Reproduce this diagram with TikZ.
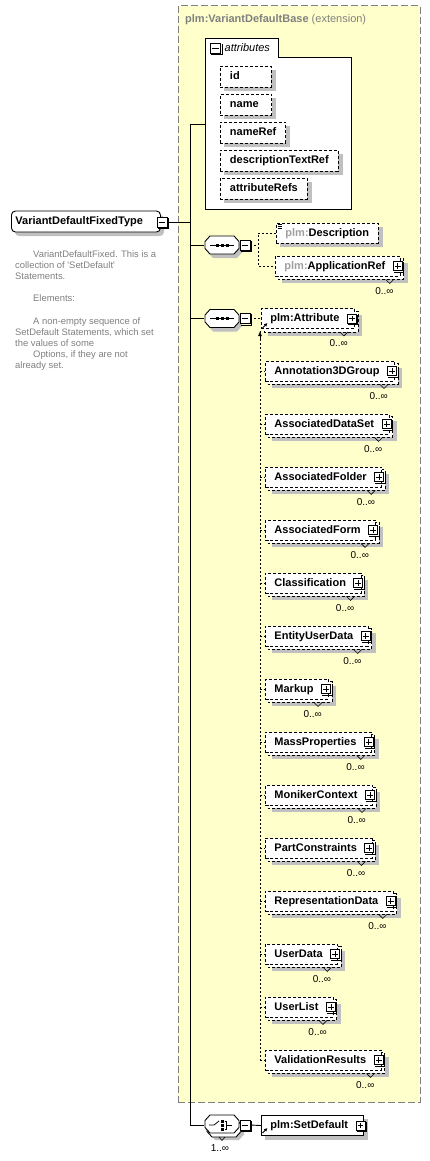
\documentclass[tikz,border=0pt]{standalone}
\usepackage{fontspec}
\setmainfont{Liberation Sans}
\usetikzlibrary{calc,arrows.meta}
\pgfdeclarelayer{ybg}\pgfdeclarelayer{cont}\pgfdeclarelayer{shad}\pgfdeclarelayer{backb}
\pgfsetlayers{ybg,cont,shad,backb,main}
\definecolor{ybox}{RGB}{255,255,204}
\definecolor{shadowc}{RGB}{192,192,192}
\definecolor{greytext}{RGB}{128,128,128}
\definecolor{lgreytext}{RGB}{160,160,160}
\newcommand\ef{\fontsize{11}{13}\selectfont\bfseries}
\newcommand\mf{\fontsize{10}{12}\selectfont}
\newcommand\df{\fontsize{9.4}{11.1}\selectfont}
\tikzset{
  conn/.style={line width=0.9pt, black},
  dconn/.style={conn, dash pattern=on 2pt off 2pt},
  boxline/.style={line width=0.9pt, black},
  signline/.style={line width=0.8pt, black},
  optbox/.style={draw, fill=white, dash pattern=on 3pt off 2pt, line width=0.9pt, anchor=west, font=\ef,
    minimum height=20pt, inner xsep=9pt, inner ysep=0pt, text height=8pt, text depth=2pt},
  reqbox/.style={optbox, solid},
  optback/.style={draw, fill=white, dash pattern=on 3pt off 2pt, line width=0.9pt},
  attrbox/.style={optbox, minimum height=21pt, inner xsep=9.5pt},
  plusnode/.style={draw, solid, fill=white, line width=0.9pt, minimum size=9pt, inner sep=0pt},
  multlabel/.style={font=\mf, inner sep=0pt},
  notch/.style={line width=0.6pt, black},
  compnode/.style={minimum width=35pt, minimum height=18pt, inner sep=0pt},
  extbox/.style={draw=greytext, fill=ybox, line width=1pt, dash pattern=on 7pt off 3pt, inner sep=0pt},
}
\newcommand\drawshadow[3]{%
  \begin{pgfonlayer}{shad}
    \fill[shadowc] ($(#1.north west)+(#2,#3)$) rectangle ($(#1.south east)+(#2,#3)$);
  \end{pgfonlayer}}
\newcommand\drawback[2]{%
  \begin{pgfonlayer}{backb}
    \draw[#2] ($(#1.north west)+(3,3)$) rectangle ($(#1.south east)+(3,3)$);
  \end{pgfonlayer}}
\newcommand\plusmark[2]{%
  \node[plusnode] (#1) at #2 {};
  \draw[boxline] ($(#1.south west)+(1,1)$) -- ($(#1.south east)+(1,1)$) -- ($(#1.north east)+(1,1)$);
  \draw[signline] ($(#1.west)+(2,0)$) -- ($(#1.east)+(-2,0)$) ($(#1.north)+(0,2)$) -- ($(#1.south)+(0,-2)$);}
\newcommand\minusmark[2]{%
  \node[plusnode, minimum size=10pt] (#1) at #2 {};
  \draw[boxline] ($(#1.south west)+(1,1)$) -- ($(#1.south east)+(1,1)$) -- ($(#1.north east)+(1,1)$);
  \draw[signline] ($(#1.west)+(2,0)$) -- ($(#1.east)+(-2,0)$);}
\newcommand\repel[6]{% name, x, cy, text, mult, style
  \node[#6] (#1) at (#2,#3) {#4\hspace*{6pt}};
  \drawback{#1}{optback}
  \drawshadow{#1}{7}{7}
  \plusmark{#1p}{($(#1.east)+(-3,0)$)}
  \node[multlabel, anchor=east] (#1m) at ($(#1.east)+(-7,25)$) {#5};
  \draw[notch] ($(#1.south east)+(-15,3)$) -- ($(#1.south east)+(-11,7)$) -- ($(#1.south east)+(-7,3)$);}
\newcommand\octpath[2]{(#1-17,#2-3.5) -- (#1-12,#2-9) -- (#1+12,#2-9) -- (#1+17,#2-3.5) -- (#1+17,#2+3.5) -- (#1+12,#2+9) -- (#1-12,#2+9) -- (#1-17,#2+3.5) -- cycle}
\newcommand\seqicon[2]{%
  \draw[signline] (#1-12,#2) -- (#1+12,#2);
  \fill (#1-6.5,#2-1.5) rectangle (#1-3.5,#2+1.5);
  \fill (#1-1.5,#2-1.5) rectangle (#1+1.5,#2+1.5);
  \fill (#1+3.5,#2-1.5) rectangle (#1+6.5,#2+1.5);}
\begin{document}
\begin{tikzpicture}[x=1pt,y=-1pt]
\useasboundingbox (0,0) rectangle (430,1161);
\begin{pgfonlayer}{ybg}
  \fill[white] (0,0) rectangle (430,1161);
  \node[extbox, anchor=north west, minimum width=242pt, minimum height=1096pt] (ext) at (177.5,5.5) {};
\end{pgfonlayer}
\node[anchor=base west, text=greytext, font=\ef, inner sep=0pt] (title) at (185,23) {plm:VariantDefaultBase \textmd{(extension)}};

% attributes container
\begin{pgfonlayer}{cont}
  \draw[boxline, fill=white] (205,209) -- (205,38) -- (278,38) -- (278,57) -- (351,57) -- (351,209) -- cycle;
\end{pgfonlayer}
\coordinate (attrW) at (205,124);
\minusmark{attrM}{(215.5,48.5)}
\node[anchor=west, font=\fontsize{11}{13}\selectfont\itshape, inner sep=0pt] (attrT) at (224.5,48) {attributes};
\foreach \nm/\yy/\id/\pd in {id/76.5/aId/22, name/104.5/aName/3.5, nameRef/132.5/aNameRef/0, descriptionTextRef/160.5/aDescr/0, attributeRefs/188.5/aRefs/0}{
  \node[attrbox] (\id) at (220,\yy) {\nm\hspace*{\pd pt}};
  \drawshadow{\id}{4}{4}
}

% root
\begin{pgfonlayer}{shad}
  \fill[shadowc, rounded corners=4pt] (15,215) rectangle (164,236);
\end{pgfonlayer}
\node[draw, fill=white, line width=0.9pt, rounded corners=4pt, anchor=west, font=\ef, minimum height=21pt,
  text width=141pt, inner xsep=4pt, inner ysep=0pt, text height=8pt, text depth=2pt, align=left] (root) at (11,221.5) {VariantDefaultFixedType};
\minusmark{rootM}{(162,222)}

\node[anchor=north west, text=greytext, font=\df, align=left, inner sep=0pt] (doc) at (15,250.5)
 {\hspace*{18pt}VariantDefaultFixed. This is a\\
  collection of \textquotesingle SetDefault\textquotesingle\\
  Statements.\\[11.1pt]
  \hspace*{18pt}Elements:\\[11.1pt]
  \hspace*{18pt}A non-empty sequence of\\
  SetDefault Statements, which set\\
  the values of some\\
  \hspace*{18pt}Options, if they are not\\
  already set.};

% spine
\coordinate (spTop) at (190,124);
\coordinate (spBot) at (190,1125);
\draw[conn] (spTop) -- (spBot);
\draw[conn] (spTop) -- (attrW);
\draw[conn] (rootM.east) -- (rootM.east -| spTop);

% sequence 1
\node[compnode] (seqA) at (222,245) {};
\begin{pgfonlayer}{shad}\fill[shadowc] \octpath{225}{249};\end{pgfonlayer}
\draw[boxline, fill=white] \octpath{222}{245};
\seqicon{222}{245}
\minusmark{seqAm}{(245,245)}
\draw[conn] (seqA.west -| spTop) -- (seqA.west);

\node[optbox] (desc) at (276,233) {\textcolor{lgreytext}{plm:}Description};
\drawshadow{desc}{4}{4}
\draw[line width=0.7pt] (277.5,224) -- (281.5,224) (277.5,226) -- (281.5,226) (277.5,228) -- (281.5,228);
\repel{appref}{275}{266}{\textcolor{lgreytext}{plm:}ApplicationRef}{0..∞}{optbox}
\coordinate (brA) at (258,245);
\draw[dconn] (seqAm.east) -- (brA);
\draw[dconn] (desc.west) -| (brA) |- (appref.west);

% sequence 2
\node[compnode] (seqB) at (222,318.5) {};
\begin{pgfonlayer}{shad}\fill[shadowc] \octpath{225}{322.5};\end{pgfonlayer}
\draw[boxline, fill=white] \octpath{222}{318.5};
\seqicon{222}{318.5}
\minusmark{seqBm}{(245,318.5)}
\draw[conn] (seqB.west -| spTop) -- (seqB.west);
\repel{attr}{261}{318.5}{plm:Attribute}{0..∞}{optbox}
\draw[dconn] (seqBm.east) -- (attr.west);
\draw[-{Latex[length=3.5pt,width=3.5pt]}, line width=0.8pt] (262.5,328) -- (267.5,323);

\coordinate (subTop) at (260,331);
\coordinate (subBot) at (260,1060);
\draw[dconn] (subTop) -- (subBot);
\draw[-{Latex[length=5pt,width=4pt]}, line width=0.9pt] (260,340) -- (subTop);

\foreach \nm [count=\k from 0] in {Annotation3DGroup, AssociatedDataSet, AssociatedFolder, AssociatedForm, Classification, EntityUserData, Markup, MassProperties, MonikerContext, PartConstraints, RepresentationData, UserData, UserList, ValidationResults}{
  \repel{d\k}{265}{371+53*\k}{\nm}{0..∞}{optbox}
  \draw[dconn] (d\k.west -| subTop) -- (d\k.west);
}

% choice
\node[compnode] (choice) at (222,1124) {};
\begin{pgfonlayer}{shad}\fill[shadowc] \octpath{227}{1131};\end{pgfonlayer}
\begin{pgfonlayer}{backb}\draw[boxline, fill=white] \octpath{224}{1128};\end{pgfonlayer}
\draw[boxline, fill=white] \octpath{222}{1124};
\draw[signline] (209,1125) -- (214,1125) -- (219,1121);
\fill (220.5,1119.5) rectangle (223.5,1122.5);
\fill (220.5,1123.5) rectangle (223.5,1126.5);
\fill (220.5,1127.5) rectangle (223.5,1130.5);
\draw[signline] (224.5,1121) -- (226.5,1121) -- (226.5,1129) -- (224.5,1129) (226.5,1125) -- (232,1125);
\draw[notch] (219,1137) -- (222,1140.5) -- (225,1137);
\minusmark{choiceM}{(245,1125)}
\node[multlabel] (choiceMult) at (220,1148.5) {1..∞};
\draw[conn] (spBot) -- (spBot -| choice.west);

\node[reqbox] (setdef) at (261,1125.5) {plm:SetDefault\hspace*{6pt}};
\drawshadow{setdef}{4}{4}
\plusmark{setdefp}{($(setdef.east)+(-3,0)$)}
\draw[-{Latex[length=3.5pt,width=3.5pt]}, line width=0.8pt] (262.5,1133) -- (267.5,1128);
\draw[conn] (choiceM.east) -- (setdef.west);
\end{tikzpicture}
\end{document}
